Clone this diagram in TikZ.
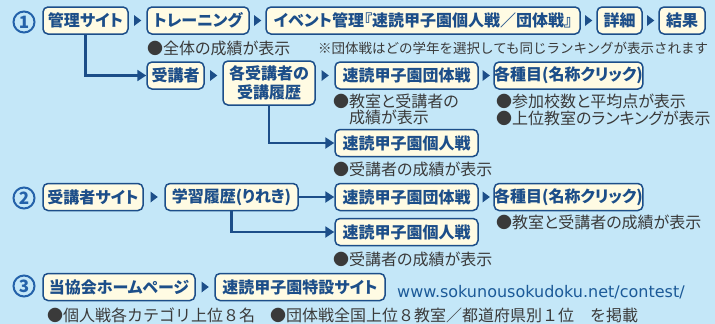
\documentclass[tikz,border=0pt]{standalone}
\usepackage{fontspec}
\newfontfamily\jp{Noto Sans CJK JP}
\newfontfamily\jpp[RawFeature=+palt]{Noto Sans CJK JP}
\newfontfamily\urlfont{DejaVu Sans}
\usetikzlibrary{arrows.meta}
\definecolor{bgc}{HTML}{C4E7F8}
\definecolor{navy}{HTML}{1C4E89}
\definecolor{cream}{HTML}{FFFBE3}
\definecolor{circc}{HTML}{2462AA}
\definecolor{graytxt}{HTML}{3A3A3A}
\definecolor{urlc}{HTML}{1C5A98}
\begin{document}
\begin{tikzpicture}[x=1pt,y=-1pt,
 box/.style={draw=navy, fill=cream, line width=1.5pt, rounded corners=5pt, text=navy,
   font=\jpp\bfseries\fontsize{16}{19}\selectfont, inner xsep=0pt, inner ysep=0pt,
   minimum height=27pt, align=center},
 note/.style={anchor=west, inner sep=0pt, text=graytxt, font=\jpp\fontsize{16}{18}\selectfont},
 small/.style={anchor=west, inner sep=0pt, text=graytxt, font=\jp\fontsize{13.5}{16}\selectfont},
 tri/.pic={\fill[navy] (-3.5,-5.5) -- (3.8,0) -- (-3.5,5.5) -- cycle;},
 arr/.style={draw=navy, line width=2.2pt, -{Triangle[length=9pt,width=11pt]}},
 num/.style={circle, draw=circc, line width=2pt, minimum size=21pt, inner sep=0pt,
   text=circc, font=\jp\bfseries\fontsize{17}{17}\selectfont},
]
\fill[bgc] (0,0) rectangle (715,324);
\useasboundingbox (0,0) rectangle (715,324);

% circled numbers
\node[num] (n1) at (24,22) {1};
\node[num] (n2) at (24,198) {2};
\node[num] (n3) at (24,286) {3};

% row 1
\node[box, minimum width=85pt] (ks) at (85.5,20.5) {管理サイト};
\node[box, minimum width=102pt] (tr) at (198,20.5) {トレーニング};
\node[box, minimum width=314pt] (ev) at (423,20.5) {イベント管理『速読甲子園個人戦／団体戦』};
\node[box, minimum width=45pt] (sh) at (619.5,20.5) {詳細};
\node[box, minimum width=46pt] (kk) at (682,20.5) {結果};
\foreach \a/\b in {ks/tr,tr/ev,ev/sh,sh/kk}
  \path (\a.east) -- (\b.west) pic[midway] {tri};
\node[note] (t1) at (147,48) {●全体の成績が表示};
\node[small] (t2) at (318,48) {※団体戦はどの学年を選択しても同じランキングが表示されます};

% row 1 sub
\node[box, minimum width=57pt] (jk) at (175.5,75.5) {受講者};
\node[box, minimum width=92pt, minimum height=44pt] (rr) at (269,83) {各受講者の\\受講履歴};
\node[box, minimum width=143pt] (dt1) at (406.5,75.5) {速読甲子園団体戦};
\node[box, minimum width=143pt] (sm1) at (568.5,75.5) {各種目(名称クリック)};
\node[box, minimum width=143pt] (kj1) at (406.5,143) {速読甲子園個人戦};
\path (jk.east) -- (rr.west |- jk.east) pic[midway] {tri};
\path (rr.east |- dt1.west) -- (dt1.west) pic[midway] {tri};
\path (dt1.east) -- (sm1.west) pic[midway] {tri};
\draw[arr] (ks.south) |- (jk.west);
\draw[arr] (rr.south) |- (kj1.west);
\node[note] (t3) at (333,101) {●教室と受講者の};
\node[note] (t4) at (349,117) {成績が表示};
\node[note] (t5) at (496,101) {●参加校数と平均点が表示};
\node[note] (t6) at (496,118) {●上位教室のランキングが表示};
\node[note] (t7) at (333,169) {●受講者の成績が表示};

% row 2
\node[box, minimum width=100pt] (js) at (93,197) {受講者サイト};
\node[box, minimum width=133pt] (gr) at (231.5,197) {学習履歴(りれき)};
\node[box, minimum width=143pt] (dt2) at (406.5,197) {速読甲子園団体戦};
\node[box, minimum width=143pt] (sm2) at (568.5,197) {各種目(名称クリック)};
\node[box, minimum width=143pt] (kj2) at (406.5,232) {速読甲子園個人戦};
\path (js.east) -- (gr.west) pic[midway] {tri};
\path (dt2.east) -- (sm2.west) pic[midway] {tri};
\draw[arr] (gr.east) -- (dt2.west);
\draw[arr] (gr.south) |- (kj2.west);
\node[note] (t8) at (496,222) {●教室と受講者の成績が表示};
\node[note] (t9) at (333,259) {●受講者の成績が表示};

% row 3
\node[box, minimum width=152pt] (hp) at (119,287) {当協会ホームページ};
\node[box, minimum width=170pt] (ts) at (300,287) {速読甲子園特設サイト};
\path (hp.east) -- (ts.west) pic[midway] {tri};
\node[anchor=west, inner sep=0pt, text=urlc, font=\urlfont\fontsize{16}{18}\selectfont] (url) at (397,292) {www.sokunousokudoku.net/contest/};
\node[note, font=\jp\fontsize{16}{18}\selectfont] (t10) at (47,315) {●個人戦各カテゴリ上位８名};
\node[note, font=\jp\fontsize{16}{18}\selectfont] (t11) at (270,315) {●団体戦全国上位８教室／都道府県別１位　を掲載};
\end{tikzpicture}
\end{document}
